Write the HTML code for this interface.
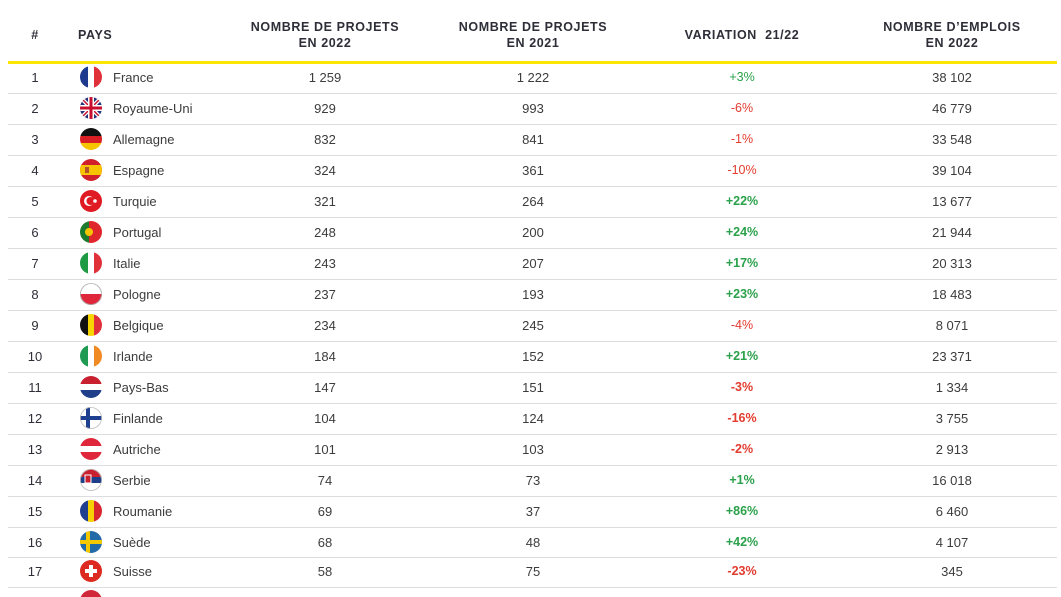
<!DOCTYPE html>
<html><head><meta charset="utf-8"><style>
html,body{margin:0;width:1061px;height:597px;overflow:hidden}
body{background:#fff;position:relative;font-family:"Liberation Sans",sans-serif;color:#3c3c3c}
.h{position:absolute;font-weight:bold;font-size:12.5px;letter-spacing:0.6px;color:#2e2e38;text-align:center;line-height:16px}
.r{position:absolute;left:0;width:1061px;height:31px;font-size:13px}
.r div{position:absolute;top:0;line-height:31px}
.n{left:20px;width:30px;text-align:center;color:#2e2e38}
.c{left:113px}
.a{left:275px;width:100px;text-align:center}
.b{left:483px;width:100px;text-align:center}
.v{left:692px;width:100px;text-align:center;font-size:12.5px}
.e{left:902px;width:100px;text-align:center}
.g{color:#2aa14a}.d{color:#e23b2f}.B{font-weight:bold}
.sep{position:absolute;left:8px;width:1049px;height:1px;background:#ddd}
svg.f{position:absolute;left:80px;top:4px}
</style></head><body>
<div class="h" style="left:20px;width:30px;top:27px">#</div>
<div class="h" style="left:78px;top:27px;text-align:left">PAYS</div>
<div class="h" style="left:225px;width:200px;top:19px">NOMBRE DE PROJETS<br>EN 2022</div>
<div class="h" style="left:433px;width:200px;top:19px">NOMBRE DE PROJETS<br>EN 2021</div>
<div class="h" style="left:642px;width:200px;top:27px">VARIATION&nbsp; 21/22</div>
<div class="h" style="left:852px;width:200px;top:19px">NOMBRE D’EMPLOIS<br>EN 2022</div>
<div style="position:absolute;left:8px;top:61px;width:1049px;height:3px;background:#ffe600"></div>
<svg width="0" height="0" style="position:absolute"><defs><clipPath id="cp"><circle cx="11" cy="11" r="11"/></clipPath></defs></svg>

<div class="r" style="top:62px"><div class="n">1</div><svg class="f" width="22" height="22"><g clip-path="url(#cp)"><rect width="8" height="22" fill="#1e3a8f"/><rect x="8" width="6" height="22" fill="#fff"/><rect x="14" width="8" height="22" fill="#e0303a"/></g></svg><div class="c">France</div><div class="a">1 259</div><div class="b">1 222</div><div class="v g">+3%</div><div class="e">38 102</div></div>
<div class="sep" style="top:93px"></div>
<div class="r" style="top:93px"><div class="n">2</div><svg class="f" width="22" height="22"><g clip-path="url(#cp)"><rect width="22" height="22" fill="#23307a"/><path d="M0 0L22 22M22 0L0 22" stroke="#fff" stroke-width="4"/><path d="M0 0L22 22M22 0L0 22" stroke="#c8102e" stroke-width="1.5"/><rect x="8" width="6" height="22" fill="#fff"/><rect y="8" width="22" height="6" fill="#fff"/><rect x="9.5" width="3" height="22" fill="#c8102e"/><rect y="9.5" width="22" height="3" fill="#c8102e"/></g></svg><div class="c">Royaume-Uni</div><div class="a">929</div><div class="b">993</div><div class="v d">-6%</div><div class="e">46 779</div></div>
<div class="sep" style="top:124px"></div>
<div class="r" style="top:124px"><div class="n">3</div><svg class="f" width="22" height="22"><g clip-path="url(#cp)"><rect width="22" height="8" fill="#111"/><rect y="8" width="22" height="7" fill="#d91f26"/><rect y="15" width="22" height="7" fill="#f6c500"/></g></svg><div class="c">Allemagne</div><div class="a">832</div><div class="b">841</div><div class="v d">-1%</div><div class="e">33 548</div></div>
<div class="sep" style="top:155px"></div>
<div class="r" style="top:155px"><div class="n">4</div><svg class="f" width="22" height="22"><g clip-path="url(#cp)"><rect width="22" height="22" fill="#d0202a"/><rect y="6" width="22" height="10" fill="#f6c500"/><rect x="5" y="8" width="4" height="6" fill="#b5532a"/></g></svg><div class="c">Espagne</div><div class="a">324</div><div class="b">361</div><div class="v d">-10%</div><div class="e">39 104</div></div>
<div class="sep" style="top:186px"></div>
<div class="r" style="top:186px"><div class="n">5</div><svg class="f" width="22" height="22"><g clip-path="url(#cp)"><rect width="22" height="22" fill="#e01a22"/><circle cx="9" cy="11" r="5" fill="#fff"/><circle cx="10.5" cy="11" r="4" fill="#e01a22"/><circle cx="15" cy="11" r="1.8" fill="#fff"/></g></svg><div class="c">Turquie</div><div class="a">321</div><div class="b">264</div><div class="v g B">+22%</div><div class="e">13 677</div></div>
<div class="sep" style="top:217px"></div>
<div class="r" style="top:217px"><div class="n">6</div><svg class="f" width="22" height="22"><g clip-path="url(#cp)"><rect width="9" height="22" fill="#1b7a2d"/><rect x="9" width="13" height="22" fill="#e0262d"/><circle cx="9" cy="11" r="4" fill="#f6c500"/></g></svg><div class="c">Portugal</div><div class="a">248</div><div class="b">200</div><div class="v g B">+24%</div><div class="e">21 944</div></div>
<div class="sep" style="top:248px"></div>
<div class="r" style="top:248px"><div class="n">7</div><svg class="f" width="22" height="22"><g clip-path="url(#cp)"><rect width="8" height="22" fill="#1e9a42"/><rect x="8" width="6" height="22" fill="#fff"/><rect x="14" width="8" height="22" fill="#e0303a"/></g></svg><div class="c">Italie</div><div class="a">243</div><div class="b">207</div><div class="v g B">+17%</div><div class="e">20 313</div></div>
<div class="sep" style="top:279px"></div>
<div class="r" style="top:279px"><div class="n">8</div><svg class="f" width="22" height="22"><g clip-path="url(#cp)"><rect width="22" height="11" fill="#fff"/><rect y="11" width="22" height="11" fill="#e0263a"/></g><circle cx="11" cy="11" r="10.5" fill="none" stroke="#aaa" stroke-width="0.8"/></svg><div class="c">Pologne</div><div class="a">237</div><div class="b">193</div><div class="v g B">+23%</div><div class="e">18 483</div></div>
<div class="sep" style="top:310px"></div>
<div class="r" style="top:310px"><div class="n">9</div><svg class="f" width="22" height="22"><g clip-path="url(#cp)"><rect width="8" height="22" fill="#111"/><rect x="8" width="6" height="22" fill="#f6d500"/><rect x="14" width="8" height="22" fill="#e0303a"/></g></svg><div class="c">Belgique</div><div class="a">234</div><div class="b">245</div><div class="v d">-4%</div><div class="e">8 071</div></div>
<div class="sep" style="top:341px"></div>
<div class="r" style="top:341px"><div class="n">10</div><svg class="f" width="22" height="22"><g clip-path="url(#cp)"><rect width="8" height="22" fill="#1e9a52"/><rect x="8" width="6" height="22" fill="#fff"/><rect x="14" width="8" height="22" fill="#f08a24"/></g></svg><div class="c">Irlande</div><div class="a">184</div><div class="b">152</div><div class="v g B">+21%</div><div class="e">23 371</div></div>
<div class="sep" style="top:372px"></div>
<div class="r" style="top:372px"><div class="n">11</div><svg class="f" width="22" height="22"><g clip-path="url(#cp)"><rect width="22" height="8" fill="#c8202e"/><rect y="8" width="22" height="6" fill="#fff"/><rect y="14" width="22" height="8" fill="#203f8a"/></g></svg><div class="c">Pays-Bas</div><div class="a">147</div><div class="b">151</div><div class="v d B">-3%</div><div class="e">1 334</div></div>
<div class="sep" style="top:403px"></div>
<div class="r" style="top:403px"><div class="n">12</div><svg class="f" width="22" height="22"><g clip-path="url(#cp)"><rect width="22" height="22" fill="#fff"/><rect x="6" width="4" height="22" fill="#1d3f8f"/><rect y="9" width="22" height="4" fill="#1d3f8f"/></g><circle cx="11" cy="11" r="10.5" fill="none" stroke="#bbb" stroke-width="0.8"/></svg><div class="c">Finlande</div><div class="a">104</div><div class="b">124</div><div class="v d B">-16%</div><div class="e">3 755</div></div>
<div class="sep" style="top:434px"></div>
<div class="r" style="top:434px"><div class="n">13</div><svg class="f" width="22" height="22"><g clip-path="url(#cp)"><rect width="22" height="8" fill="#e0263a"/><rect y="8" width="22" height="6" fill="#fff"/><rect y="14" width="22" height="8" fill="#e0263a"/></g></svg><div class="c">Autriche</div><div class="a">101</div><div class="b">103</div><div class="v d B">-2%</div><div class="e">2 913</div></div>
<div class="sep" style="top:465px"></div>
<div class="r" style="top:465px"><div class="n">14</div><svg class="f" width="22" height="22"><g clip-path="url(#cp)"><rect width="22" height="8" fill="#c8202e"/><rect y="8" width="22" height="6" fill="#1f3f8a"/><rect y="14" width="22" height="8" fill="#fff"/><rect x="5" y="6" width="6" height="8" fill="#c8202e" stroke="#fff"/></g><circle cx="11" cy="11" r="10.5" fill="none" stroke="#bbb" stroke-width="0.8"/></svg><div class="c">Serbie</div><div class="a">74</div><div class="b">73</div><div class="v g B">+1%</div><div class="e">16 018</div></div>
<div class="sep" style="top:496px"></div>
<div class="r" style="top:496px"><div class="n">15</div><svg class="f" width="22" height="22"><g clip-path="url(#cp)"><rect width="8" height="22" fill="#1f3f8f"/><rect x="8" width="6" height="22" fill="#f6d000"/><rect x="14" width="8" height="22" fill="#d8262e"/></g></svg><div class="c">Roumanie</div><div class="a">69</div><div class="b">37</div><div class="v g B">+86%</div><div class="e">6 460</div></div>
<div class="sep" style="top:527px"></div>
<div class="r" style="top:527px"><div class="n">16</div><svg class="f" width="22" height="22"><g clip-path="url(#cp)"><rect width="22" height="22" fill="#236aa8"/><rect x="6" width="4" height="22" fill="#f6c800"/><rect y="9" width="22" height="4" fill="#f6c800"/></g></svg><div class="c">Suède</div><div class="a">68</div><div class="b">48</div><div class="v g B">+42%</div><div class="e">4 107</div></div>
<div class="sep" style="top:557px"></div>
<div class="r" style="top:556px"><div class="n">17</div><svg class="f" width="22" height="22"><g clip-path="url(#cp)"><rect width="22" height="22" fill="#dc2a20"/><rect x="9" y="5" width="4" height="12" fill="#fff"/><rect x="5" y="9" width="12" height="4" fill="#fff"/></g></svg><div class="c">Suisse</div><div class="a">58</div><div class="b">75</div><div class="v d B">-23%</div><div class="e">345</div></div>
<div class="sep" style="top:587px"></div>
<svg style="position:absolute;left:80px;top:590px" width="22" height="7"><circle cx="11" cy="11" r="11" fill="#d0283a"/></svg>
</body></html>
